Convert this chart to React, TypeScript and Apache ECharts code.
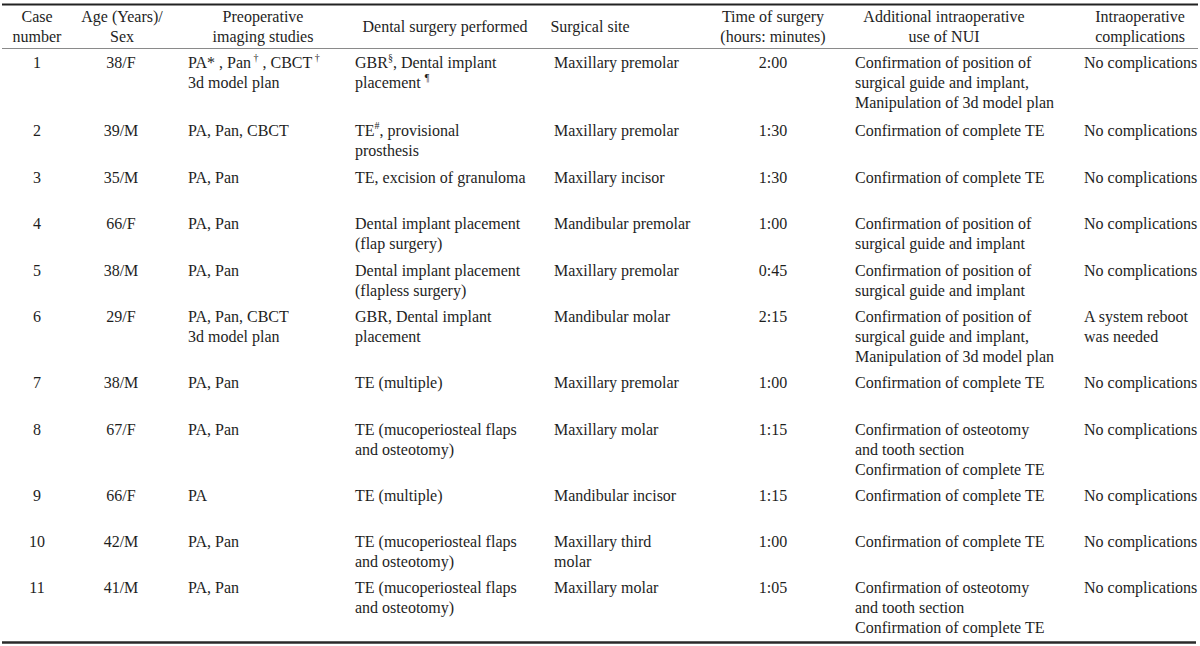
import React, { useEffect, useRef } from "react";
import * as echarts from "echarts";

// ---- Table data ----
const headers = [
  "Case\nnumber",
  "Age (Years)/\nSex",
  "Preoperative\nimaging studies",
  "Dental surgery performed",
  "Surgical site",
  "Time of surgery\n(hours: minutes)",
  "Additional intraoperative\nuse of NUI",
  "Intraoperative\ncomplications",
];

const caseNumbers = ["1", "2", "3", "4", "5", "6", "7", "8", "9", "10", "11"];
const ageSex = ["38/F", "39/M", "35/M", "66/F", "38/M", "29/F", "38/M", "67/F", "66/F", "42/M", "41/M"];
const imaging = [
  "PA* , Pan{s| †} , CBCT{s| †}\n3d model plan",
  "PA, Pan, CBCT",
  "PA, Pan",
  "PA, Pan",
  "PA, Pan",
  "PA, Pan, CBCT\n3d model plan",
  "PA, Pan",
  "PA, Pan",
  "PA",
  "PA, Pan",
  "PA, Pan",
];
const surgery = [
  "GBR{s|§}, Dental implant\nplacement {s|¶}",
  "TE{s|#}, provisional\nprosthesis",
  "TE, excision of granuloma",
  "Dental implant placement\n(flap surgery)",
  "Dental implant placement\n(flapless surgery)",
  "GBR, Dental implant\nplacement",
  "TE (multiple)",
  "TE (mucoperiosteal flaps\nand osteotomy)",
  "TE (multiple)",
  "TE (mucoperiosteal flaps\nand osteotomy)",
  "TE (mucoperiosteal flaps\nand osteotomy)",
];
const sites = [
  "Maxillary premolar",
  "Maxillary premolar",
  "Maxillary incisor",
  "Mandibular premolar",
  "Maxillary premolar",
  "Mandibular molar",
  "Maxillary premolar",
  "Maxillary molar",
  "Mandibular incisor",
  "Maxillary third\nmolar",
  "Maxillary molar",
];
const times = ["2:00", "1:30", "1:30", "1:00", "0:45", "2:15", "1:00", "1:15", "1:15", "1:00", "1:05"];
const nuiUse = [
  "Confirmation of position of\nsurgical guide and implant,\nManipulation of 3d model plan",
  "Confirmation of complete TE",
  "Confirmation of complete TE",
  "Confirmation of position of\nsurgical guide and implant",
  "Confirmation of position of\nsurgical guide and implant",
  "Confirmation of position of\nsurgical guide and implant,\nManipulation of 3d model plan",
  "Confirmation of complete TE",
  "Confirmation of osteotomy\nand tooth section\nConfirmation of complete TE",
  "Confirmation of complete TE",
  "Confirmation of complete TE",
  "Confirmation of osteotomy\nand tooth section\nConfirmation of complete TE",
];
const complications = [
  "No complications",
  "No complications",
  "No complications",
  "No complications",
  "No complications",
  "A system reboot\nwas needed",
  "No complications",
  "No complications",
  "No complications",
  "No complications",
  "No complications",
];

// ---- Layout ----
const columns = [caseNumbers, ageSex, imaging, surgery, sites, times, nuiUse, complications];
const headerCenterX = [37, 122, 263, 445, 590, 773, 944, 1140];
const cellAlign = ["center", "center", "left", "left", "left", "center", "left", "left"];
const cellX = [37, 121, 188, 355, 554, 773, 855, 1084];
const rowFirstLineY = [62, 130, 177, 223, 270, 316, 382, 429, 495, 541, 587];

const FONT = "'Liberation Serif', 'Times New Roman', serif";
const FS = 16;
const LH = 20;
const COLOR = "#1e1e1e";

export default function App() {
  const ref = useRef<HTMLDivElement>(null);
  useEffect(() => {
    if (!ref.current) return;
    const chart = echarts.init(ref.current, null, { renderer: "svg" });
    const rich = {
      s: { fontSize: 10, lineHeight: 10, verticalAlign: "top", fontFamily: FONT, fill: COLOR, color: COLOR },
    };
    const els: any[] = [];
    // rules
    els.push({ type: "line", shape: { x1: 2, y1: 4.5, x2: 1198, y2: 4.5 }, style: { stroke: "#222", lineWidth: 2 } });
    els.push({ type: "line", shape: { x1: 2, y1: 48.5, x2: 1198, y2: 48.5 }, style: { stroke: "#8a8a8a", lineWidth: 1 } });
    els.push({ type: "line", shape: { x1: 2, y1: 642.5, x2: 1196, y2: 642.5 }, style: { stroke: "#2a2a2a", lineWidth: 2.5 } });
    // headers
    headers.forEach((h, i) => {
      const lines = h.split("\n").length;
      const cy = lines === 1 ? 26 : 16;
      els.push({
        type: "text",
        x: headerCenterX[i],
        y: cy - LH / 2,
        style: { text: h, fontSize: FS, fontFamily: FONT, fill: COLOR, lineHeight: LH, align: "center", verticalAlign: "top" },
      });
    });
    // cells
    columns.forEach((col, ci) => {
      col.forEach((txt, ri) => {
        els.push({
          type: "text",
          x: cellX[ci],
          y: rowFirstLineY[ri] - LH / 2,
          style: {
            text: txt,
            fontSize: FS,
            fontFamily: FONT,
            fill: COLOR,
            lineHeight: LH,
            align: cellAlign[ci],
            verticalAlign: "top",
            rich,
          },
        });
      });
    });
    chart.setOption({ animation: false, backgroundColor: "#ffffff", graphic: { elements: els } });
    return () => chart.dispose();
  }, []);
  return <div ref={ref} style={{ position: "fixed", left: 0, top: 0, width: 1200, height: 646 }} />;
}
